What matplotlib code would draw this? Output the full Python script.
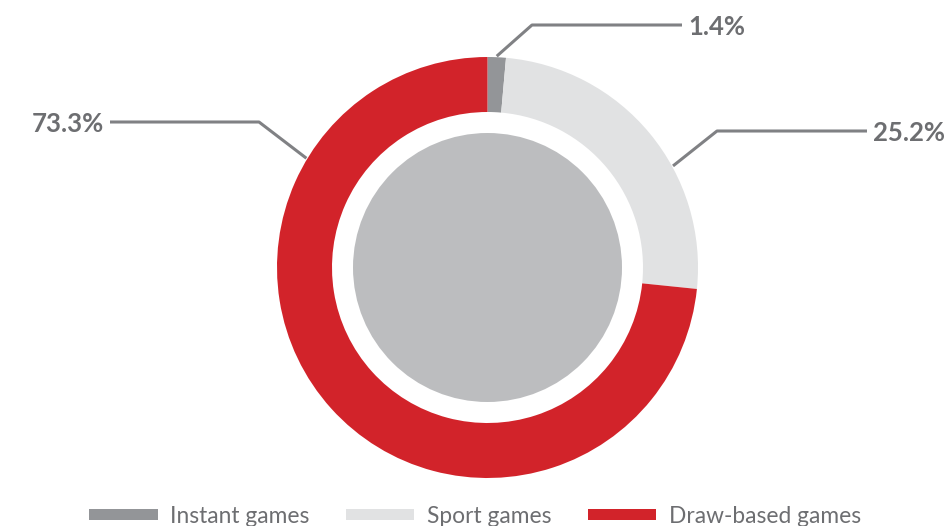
import numpy as np
import matplotlib.pyplot as plt
from matplotlib.lines import Line2D

# game type shares (%)
categories = ['Instant games', 'Sport games', 'Draw-based games']
shares = [1.4, 25.2, 73.3]
labels = ['1.4%', '25.2%', '73.3%']
colors = ['#939598', '#e1e2e3', '#d2232a']

TEXT = '#6d6e71'
LINE = '#808184'

fig = plt.figure(figsize=(9.5, 5.26), dpi=100)
ax = fig.add_axes([0, 0, 1, 1])

cx, cy = 487.5, 258.5
r_out, ring = 210.5, 55

wedges, _ = ax.pie(shares, colors=colors, startangle=90, counterclock=False,
                   radius=r_out, center=(cx, cy),
                   wedgeprops=dict(width=ring, linewidth=0))
ax.add_patch(plt.Circle((cx, cy), 134.5, color='#bcbdbf', lw=0))

# leader lines: angle on ring edge, elbow x, line end x, text y, alignment
leaders = [
    (87.5, 532, 682, 501, 'left'),
    (28.7, 717, 867, 395, 'left'),
    (148.9, 259, 110, 404, 'right'),
]
for lab, (ang, ex, lx, ty, ha) in zip(labels, leaders):
    a = np.deg2rad(ang)
    x0 = cx + (r_out + 1) * np.cos(a)
    y0 = cy + (r_out + 1) * np.sin(a)
    ax.add_line(Line2D([x0, ex, lx], [y0, ty, ty], color=LINE, lw=2.2,
                       solid_capstyle='butt'))
    tx = lx + 6 if ha == 'left' else lx - 6
    ax.text(tx, ty, lab, ha=ha, va='center_baseline', fontsize=18.5,
            fontweight='bold', color=TEXT, family='Lato')

ax.set_xlim(0, 950)
ax.set_ylim(0, 526)
ax.set_aspect('equal')
ax.axis('off')

leg = ax.legend(wedges, categories, loc='lower left',
                bbox_to_anchor=(78 / 950, -12 / 526), ncol=3, frameon=False,
                handlelength=3.0, handleheight=0.37, handletextpad=0.55,
                columnspacing=1.6, borderpad=0,
                prop=dict(family='Lato', size=16.4))
for t in leg.get_texts():
    t.set_color(TEXT)

fig.savefig('out.png', dpi=100)
